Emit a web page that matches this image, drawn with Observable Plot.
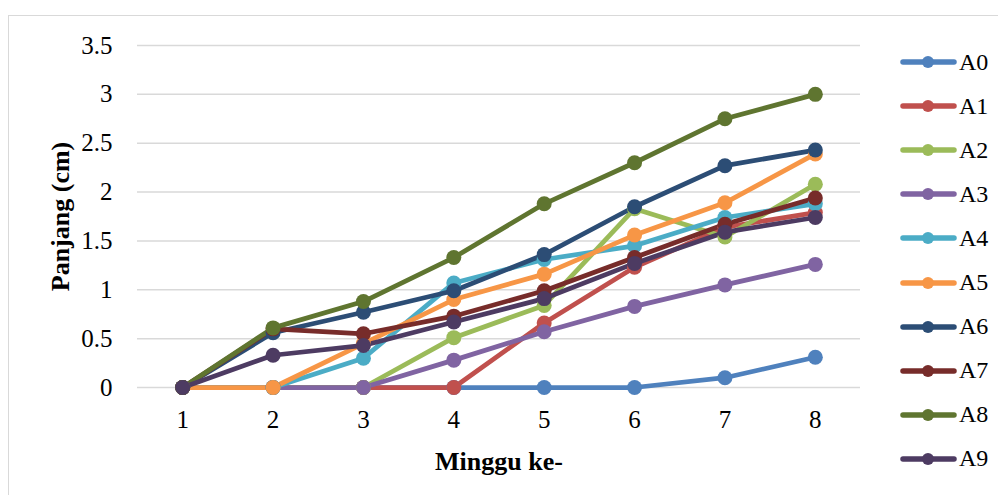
<!DOCTYPE html>
<html>
<head>
<meta charset="utf-8">
<script src="https://cdn.jsdelivr.net/npm/d3@7"></script>
<script src="https://cdn.jsdelivr.net/npm/@observablehq/plot@0.6"></script>
<style>
  html, body { margin: 0; padding: 0; background: #fff; }
  #wrap { position: relative; width: 998px; height: 495px; overflow: hidden; font-family: "Liberation Serif", "DejaVu Serif", serif; }
  #frame { position: absolute; left: 8px; top: 15px; width: 1100px; height: 600px; border: 1.5px solid #d9d9d9; box-sizing: border-box; }
  #chart { position: absolute; left: 0; top: 0; }
  #legend { position: absolute; left: 900px; top: 0; }
  .lg { position: absolute; left: 0; display: flex; align-items: center; white-space: nowrap; font-size: 24px; color: #000; font-family: "Liberation Serif", serif; }
</style>
</head>
<body>
<div id="wrap">
  <div id="frame"></div>
  <div id="chart"></div>
  <div id="legend"></div>
</div>
<script>
const weeks = [1, 2, 3, 4, 5, 6, 7, 8];
const seriesNames = ["A0", "A1", "A2", "A3", "A4", "A5", "A6", "A7", "A8", "A9"];
const colors = ["#4F81BD", "#C0504D", "#9BBB59", "#8064A2", "#4BACC6", "#F79646", "#2C4D75", "#772C2A", "#5F7530", "#4D3B62"];
const yTicks = [0, 0.5, 1, 1.5, 2, 2.5, 3, 3.5];

const A0 = [0, 0, 0, 0, 0, 0, 0.10, 0.31];
const A1 = [0, 0, 0, 0, 0.66, 1.23, 1.64, 1.79];
const A2 = [0, 0, 0, 0.51, 0.84, 1.83, 1.54, 2.08];
const A3 = [0, 0, 0, 0.28, 0.57, 0.83, 1.05, 1.26];
const A4 = [0, 0, 0.30, 1.07, 1.31, 1.45, 1.74, 1.88];
const A5 = [0, 0, 0.45, 0.90, 1.16, 1.56, 1.89, 2.39];
const A6 = [0, 0.56, 0.77, 0.99, 1.36, 1.85, 2.27, 2.43];
const A7 = [0, 0.60, 0.55, 0.73, 0.99, 1.33, 1.67, 1.94];
const A8 = [0, 0.61, 0.88, 1.33, 1.88, 2.30, 2.75, 3.00];
const A9 = [0, 0.33, 0.43, 0.67, 0.91, 1.27, 1.59, 1.74];

const seriesValues = [A0, A1, A2, A3, A4, A5, A6, A7, A8, A9];

const data = [];
seriesNames.forEach((name, i) => {
  weeks.forEach((w, j) => data.push({ series: name, week: w, value: seriesValues[i][j] }));
});

const plot = Plot.plot({
  width: 998,
  height: 495,
  marginLeft: 137,
  marginRight: 138,
  marginTop: 45,
  marginBottom: 108,
  style: { fontFamily: "'Liberation Serif', serif", fontSize: "25px", color: "#000", background: "transparent" },
  x: { domain: [0.5, 8.5], label: null },
  y: { domain: [0, 3.5], label: null },
  color: { domain: seriesNames, range: colors },
  marks: [
    Plot.ruleY(yTicks, { stroke: "#d9d9d9", strokeWidth: 1.5, strokeOpacity: 1 }),
    Plot.axisX({ ticks: weeks, tickSize: 0, tickPadding: 23, tickFormat: d => String(d), fontSize: 25, label: null }),
    Plot.axisY({ ticks: yTicks, tickSize: 0, tickPadding: 25, tickFormat: d => String(d), fontSize: 25, label: null }),
    Plot.line(data, { x: "week", y: "value", z: "series", stroke: "series", strokeWidth: 4.75, strokeLinejoin: "round", strokeLinecap: "round" }),
    Plot.dot(data, { x: "week", y: "value", fill: "series", r: 7.5, stroke: null }),
    Plot.text(["Minggu ke-"], { frameAnchor: "bottom", lineAnchor: "middle", textAnchor: "middle", dy: 74, fontSize: 26, fontWeight: "bold" }),
    Plot.text(["Panjang (cm)"], { frameAnchor: "left", lineAnchor: "middle", textAnchor: "middle", dx: -77, rotate: -90, fontSize: 26, fontWeight: "bold" })
  ]
});
document.getElementById("chart").appendChild(plot);

// legend
const legend = document.getElementById("legend");
seriesNames.forEach((name, i) => {
  const row = document.createElement("div");
  row.className = "lg";
  row.style.top = (62 + i * 44.1 - 15) + "px";
  row.innerHTML = `<svg width="58" height="30"><line x1="3" y1="15" x2="54" y2="15" stroke="${colors[i]}" stroke-width="5.5" stroke-linecap="round"/><circle cx="28" cy="15" r="6" fill="${colors[i]}"/></svg><span style="margin-left:1px">${name}</span>`;
  legend.appendChild(row);
});
</script>
</body>
</html>
